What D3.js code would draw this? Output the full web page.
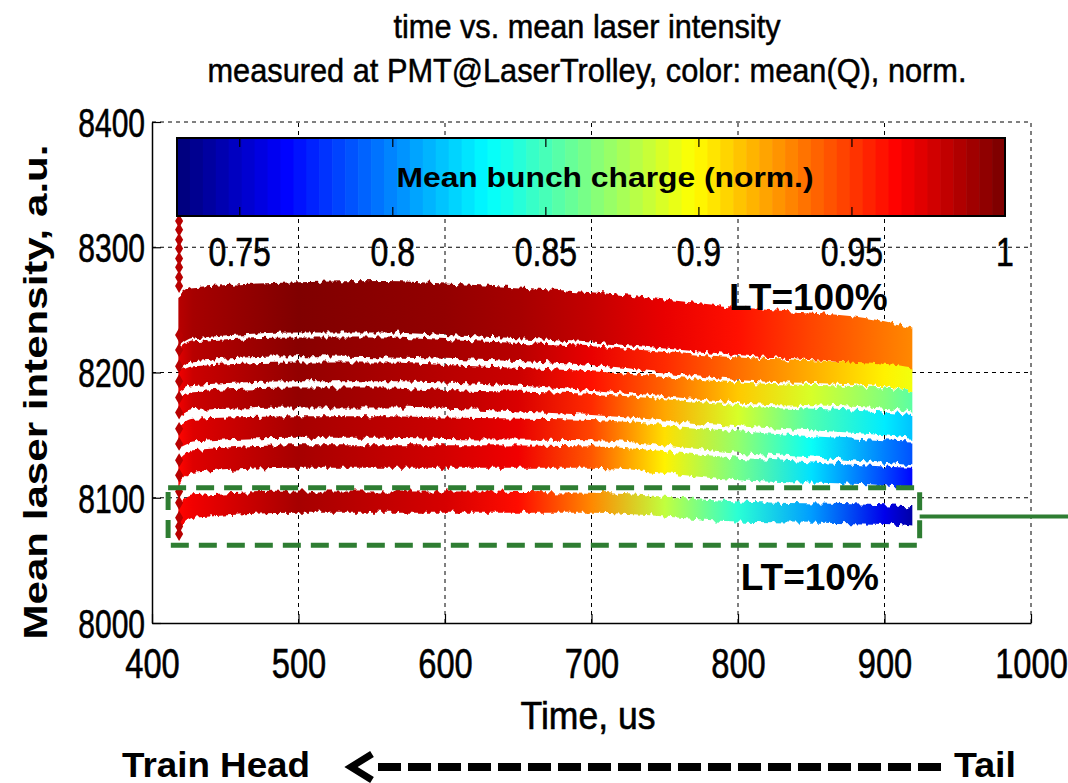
<!DOCTYPE html>
<html>
<head>
<meta charset="utf-8">
<script src="https://cdn.jsdelivr.net/npm/d3@7"></script>
<style>
  body { margin: 0; background: #fff; }
  svg text { font-family: "Liberation Sans", Arial, Helvetica, sans-serif; }
</style>
</head>
<body>
<svg id="chart" width="1068" height="783"></svg>
<script>
// ---- data ----
// band edges (mean laser intensity, a.u.) at these times (us)
const boundTimes = [418, 428, 500, 560, 600, 700, 800, 900, 919];
const bandUpper = [
  [8261, 8268, 8272, 8273, 8271, 8264, 8252, 8241, 8236],
  [8218, 8225, 8228, 8228, 8226, 8221, 8212, 8207, 8204],
  [8200, 8205, 8208, 8208, 8206, 8201, 8192, 8188, 8185],
  [8180, 8185, 8188, 8188, 8186, 8183, 8174, 8168, 8166],
  [8157, 8163, 8165, 8165, 8164, 8162, 8153, 8146, 8145],
  [8130, 8138, 8142, 8142, 8142, 8141, 8132, 8125, 8124],
  [8095, 8102, 8105, 8105, 8105, 8104, 8097, 8094, 8093]
];
const bandLower = [
  [8220, 8227, 8232, 8232, 8230, 8224, 8214, 8205, 8201],
  [8201, 8209, 8213, 8212, 8211, 8206, 8194, 8189, 8185],
  [8184, 8190, 8193, 8193, 8192, 8186, 8176, 8171, 8168],
  [8164, 8170, 8172, 8172, 8171, 8166, 8157, 8150, 8148],
  [8140, 8145, 8148, 8148, 8147, 8146, 8136, 8128, 8126],
  [8110, 8120, 8124, 8124, 8124, 8124, 8114, 8110, 8108],
  [8075, 8084, 8088, 8088, 8088, 8088, 8081, 8079, 8077]
];
// mean bunch charge (norm.) along each band
const chargeTimes = [418, 428, 500, 600, 650, 700, 750, 800, 850, 900, 919];
const bandCharge = [
  [0.985, 0.99, 1.0, 0.995, 0.99, 0.982, 0.972, 0.962, 0.948, 0.935, 0.93],
  [0.975, 0.985, 0.998, 0.99, 0.985, 0.972, 0.955, 0.937, 0.92, 0.902, 0.895],
  [0.97, 0.98, 0.995, 0.985, 0.98, 0.962, 0.94, 0.913, 0.888, 0.866, 0.855],
  [0.97, 0.98, 0.995, 0.985, 0.976, 0.955, 0.922, 0.888, 0.852, 0.826, 0.815],
  [0.965, 0.975, 0.99, 0.98, 0.972, 0.948, 0.907, 0.87, 0.833, 0.797, 0.785],
  [0.965, 0.975, 0.99, 0.978, 0.97, 0.943, 0.902, 0.862, 0.823, 0.782, 0.765],
  [0.965, 0.97, 0.99, 0.977, 0.963, 0.93, 0.882, 0.842, 0.805, 0.758, 0.74]
];
// first-bunch column at the head of the train
const spikeTime = 418.5;
const spikeValues = [8321, 8314, 8306, 8299, 8291, 8284, 8276, 8269, 8230, 8218, 8205, 8193,
  8180, 8168, 8155, 8143, 8130, 8118, 8105, 8096, 8084, 8077, 8071];
const spikeCharge = 0.985;

const xTicks = [400, 500, 600, 700, 800, 900, 1000];
const yTicks = [8000, 8100, 8200, 8300, 8400];
const cbarTicks = [0.75, 0.8, 0.85, 0.9, 0.95, 1];
const cbarDomain = [0.7295, 1];
const jetStops = [0, 0.125, 0.375, 0.625, 0.875, 1];
const jetColors = ["#000080", "#0000ff", "#00ffff", "#ffff00", "#ff0000", "#800000"];

// ---- layout ----
const svg = d3.select("#chart");
const x = d3.scaleLinear().domain([400, 1000]).range([152, 1031]);
const y = d3.scaleLinear().domain([8000, 8400]).range([623, 122]);
const cx = d3.scaleLinear().domain(cbarDomain).range([177, 1005]);
const cbarTop = 138, cbarBot = 216;
const span = cbarDomain[1] - cbarDomain[0];
const jet = d3.scaleLinear().domain(jetStops).range(jetColors).clamp(true);
const color = v => jet((v - cbarDomain[0]) / span);
const green = "#2e7d32";

const defs = svg.append("defs");
const rough = defs.append("filter").attr("id", "rough")
  .attr("x", "-3%").attr("y", "-10%").attr("width", "106%").attr("height", "120%")
  .attr("color-interpolation-filters", "sRGB");
rough.append("feTurbulence").attr("type", "fractalNoise")
  .attr("baseFrequency", "0.22 0.06").attr("numOctaves", 2).attr("seed", 7).attr("result", "n");
rough.append("feColorMatrix").attr("in", "n").attr("type", "matrix")
  .attr("values", "0 0 0 0 0.5  0 1 0 0 0  0 0 0 0 0  0 0 0 0 1").attr("result", "m");
rough.append("feDisplacementMap").attr("in", "SourceGraphic").attr("in2", "m")
  .attr("scale", 9).attr("xChannelSelector", "R").attr("yChannelSelector", "G");

// grid
const grid = svg.append("g").attr("stroke", "#000").attr("stroke-width", 1).attr("stroke-dasharray", "4,4");
grid.selectAll("line.gx").data(xTicks.slice(1)).enter().append("line")
  .attr("x1", d => x(d)).attr("x2", d => x(d)).attr("y1", y(8000)).attr("y2", y(8400));
grid.selectAll("line.gy").data(yTicks.slice(1)).enter().append("line")
  .attr("x1", x(400)).attr("x2", x(1000)).attr("y1", d => y(d)).attr("y2", d => y(d));

// bands
const area = d3.area()
  .x(d => x(d.t)).y0(d => y(d.lo)).y1(d => y(d.hi))
  .curve(d3.curveMonotoneX);
const gBands = svg.append("g").attr("filter", "url(#rough)");
bandUpper.forEach((up, i) => {
  const pts = boundTimes.map((t, j) => ({ t, hi: up[j], lo: bandLower[i][j] }));
  const x0 = x(chargeTimes[0]), x1 = x(chargeTimes[chargeTimes.length - 1]);
  const grad = defs.append("linearGradient").attr("id", "band" + i)
    .attr("gradientUnits", "userSpaceOnUse")
    .attr("x1", x0).attr("x2", x1).attr("y1", 0).attr("y2", 0);
  chargeTimes.forEach((t, j) => {
    grad.append("stop").attr("offset", (x(t) - x0) / (x1 - x0))
      .attr("stop-color", color(bandCharge[i][j]));
  });
  gBands.append("path").datum(pts).attr("d", area).attr("fill", `url(#band${i})`);
});

// head-of-train column
svg.append("g").selectAll("path").data(spikeValues).enter().append("path")
  .attr("d", d3.symbol().type(d3.symbolDiamond).size(56))
  .attr("transform", d => `translate(${x(spikeTime)},${y(d)})`)
  .attr("fill", color(spikeCharge));

// colorbar
const cb = svg.append("g");
const nLevels = 64;
cb.selectAll("rect.lvl").data(d3.range(nLevels)).enter().append("rect")
  .attr("x", i => cx(cbarDomain[0] + i * span / nLevels))
  .attr("width", span / nLevels * (cx(1) - cx(0)) + 0.6)
  .attr("y", cbarTop).attr("height", cbarBot - cbarTop)
  .attr("fill", i => jet(i / (nLevels - 1)));
cb.append("rect").attr("x", cx(cbarDomain[0])).attr("y", cbarTop)
  .attr("width", cx(cbarDomain[1]) - cx(cbarDomain[0])).attr("height", cbarBot - cbarTop)
  .attr("fill", "none").attr("stroke", "#000").attr("stroke-width", 2);
cbarTicks.slice(0, -1).forEach(t => {
  cb.append("line").attr("x1", cx(t)).attr("x2", cx(t)).attr("y1", cbarTop).attr("y2", cbarTop + 9)
    .attr("stroke", "#000").attr("stroke-width", 1.2);
  cb.append("line").attr("x1", cx(t)).attr("x2", cx(t)).attr("y1", cbarBot - 9).attr("y2", cbarBot)
    .attr("stroke", "#000").attr("stroke-width", 1.2);
});
cb.append("text").attr("x", 605).attr("y", 187).attr("text-anchor", "middle")
  .attr("font-size", 27).attr("font-weight", "bold")
  .attr("textLength", 417).attr("lengthAdjust", "spacingAndGlyphs")
  .text("Mean bunch charge (norm.)");
cb.selectAll("text.cbl").data(cbarTicks).enter().append("text")
  .attr("transform", d => `translate(${cx(d)},266) scale(0.8,1)`)
  .attr("text-anchor", "middle").attr("font-size", 40)
  .attr("stroke", "#000").attr("stroke-width", 0.6)
  .text(d => d3.format("~g")(d));

// axes
const axX = svg.append("g").attr("transform", `translate(0,${y(8000)})`)
  .call(d3.axisBottom(x).tickValues(xTicks).tickFormat(d3.format("d")).tickSizeInner(-9).tickSizeOuter(0));
axX.select(".domain").attr("stroke-width", 1.5);
axX.selectAll(".tick line").attr("stroke-width", 1.2);
axX.selectAll(".tick text").attr("y", 0).attr("dy", null)
  .attr("transform", "translate(0,55) scale(0.76,1)")
  .attr("font-size", 43).attr("fill", "#000").attr("font-family", null)
  .attr("stroke", "#000").attr("stroke-width", 0.6);

const axY = svg.append("g").attr("transform", `translate(${x(400)},0)`)
  .call(d3.axisLeft(y).tickValues(yTicks).tickFormat(d3.format("d")).tickSizeInner(-9).tickSizeOuter(0));
axY.select(".domain").attr("stroke-width", 1.5);
axY.selectAll(".tick line").attr("stroke-width", 1.2);
axY.selectAll(".tick text").attr("x", 0).attr("dy", "0.36em")
  .attr("transform", "translate(-7,0) scale(0.75,1)")
  .attr("font-size", 40).attr("fill", "#000").attr("font-family", null)
  .attr("stroke", "#000").attr("stroke-width", 0.6);

// titles and labels
svg.append("text").attr("x", 587).attr("y", 38).attr("text-anchor", "middle")
  .attr("font-size", 33).attr("textLength", 387).attr("lengthAdjust", "spacingAndGlyphs")
  .attr("stroke", "#000").attr("stroke-width", 0.5)
  .text("time vs. mean laser intensity");
svg.append("text").attr("x", 587).attr("y", 82).attr("text-anchor", "middle")
  .attr("font-size", 33).attr("textLength", 759).attr("lengthAdjust", "spacingAndGlyphs")
  .attr("stroke", "#000").attr("stroke-width", 0.5)
  .text("measured at PMT@LaserTrolley, color: mean(Q), norm.");
svg.append("text").attr("x", 588).attr("y", 729).attr("text-anchor", "middle")
  .attr("font-size", 38).attr("textLength", 135).attr("lengthAdjust", "spacingAndGlyphs")
  .attr("stroke", "#000").attr("stroke-width", 0.6)
  .text("Time, us");
svg.append("text").attr("transform", "translate(47,392) rotate(-90)").attr("text-anchor", "middle")
  .attr("font-size", 34).attr("font-weight", "bold")
  .attr("textLength", 495).attr("lengthAdjust", "spacingAndGlyphs")
  .text("Mean laser intensity, a.u.");

// annotations
svg.append("rect")
  .attr("x", x(411)).attr("y", y(8108))
  .attr("width", x(924) - x(411)).attr("height", y(8062) - y(8108))
  .attr("fill", "none").attr("stroke", green).attr("stroke-width", 5)
  .attr("stroke-dasharray", "18,10");
svg.append("line").attr("x1", x(924)).attr("x2", 1068).attr("y1", y(8085)).attr("y2", y(8085))
  .attr("stroke", green).attr("stroke-width", 4);
svg.append("text").attr("x", x(848)).attr("y", y(8250)).attr("text-anchor", "middle")
  .attr("font-size", 37).attr("font-weight", "bold").text("LT=100%");
svg.append("text").attr("x", x(849)).attr("y", y(8026)).attr("text-anchor", "middle")
  .attr("font-size", 37).attr("font-weight", "bold").text("LT=10%");

// train direction arrow
svg.append("text").attr("x", 216).attr("y", 777).attr("text-anchor", "middle")
  .attr("font-size", 35).attr("font-weight", "bold")
  .attr("textLength", 188).attr("lengthAdjust", "spacingAndGlyphs").text("Train Head");
svg.append("text").attr("x", 985).attr("y", 777).attr("text-anchor", "middle")
  .attr("font-size", 35).attr("font-weight", "bold")
  .attr("textLength", 62).attr("lengthAdjust", "spacingAndGlyphs").text("Tail");
svg.append("path").attr("d", "M372,754 L351,767 L372,780")
  .attr("fill", "none").attr("stroke", "#000").attr("stroke-width", 7);
svg.append("line").attr("x1", 378).attr("x2", 942).attr("y1", 767).attr("y2", 767)
  .attr("stroke", "#000").attr("stroke-width", 8).attr("stroke-dasharray", "23,7");
</script>
</body>
</html>
